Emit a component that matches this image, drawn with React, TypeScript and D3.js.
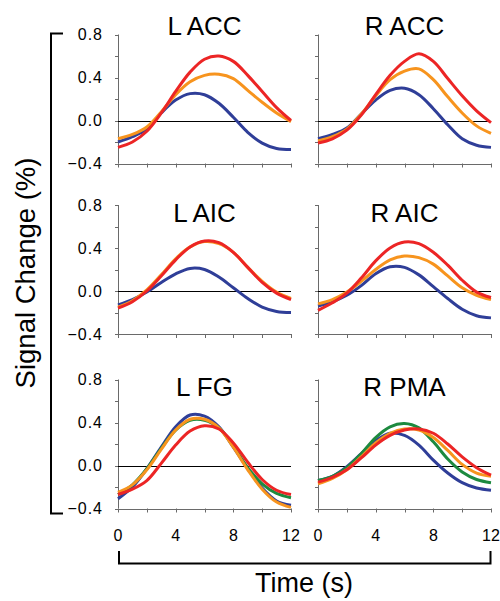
import React from "react";
import * as d3 from "d3";

const times = [0, 1, 2, 3, 4, 5, 6, 7, 8, 9, 10, 11, 12];
const regionNames = ["L ACC", "R ACC", "L AIC", "R AIC", "L FG", "R PMA"];
const yTicks = [-0.4, -0.2, 0, 0.2, 0.4, 0.6, 0.8];
const yTickLabels = [-0.4, 0, 0.4, 0.8];
const xTicks = [0, 2, 4, 6, 8, 10, 12];
const xTickLabels = [0, 4, 8, 12];

// L ACC
const lAccBlue = [-0.2, -0.15, -0.08, 0.07, 0.19, 0.25, 0.24, 0.16, 0.03, -0.11, -0.21, -0.26, -0.27];
const lAccOrange = [-0.17, -0.13, -0.06, 0.08, 0.24, 0.36, 0.42, 0.43, 0.39, 0.28, 0.17, 0.07, -0.01];
const lAccRed = [-0.25, -0.2, -0.1, 0.07, 0.27, 0.45, 0.57, 0.6, 0.55, 0.42, 0.27, 0.12, 0.0];
// R ACC
const rAccBlue = [-0.17, -0.13, -0.07, 0.06, 0.19, 0.28, 0.3, 0.24, 0.11, -0.04, -0.17, -0.23, -0.25];
const rAccOrange = [-0.19, -0.15, -0.08, 0.06, 0.23, 0.38, 0.46, 0.48, 0.38, 0.22, 0.07, -0.05, -0.12];
const rAccRed = [-0.21, -0.17, -0.09, 0.05, 0.24, 0.42, 0.55, 0.62, 0.55, 0.39, 0.23, 0.09, -0.02];
// L AIC
const lAicBlue = [-0.13, -0.08, -0.01, 0.08, 0.16, 0.21, 0.2, 0.13, 0.03, -0.07, -0.15, -0.19, -0.2];
const lAicOrange = [-0.15, -0.09, 0.01, 0.15, 0.3, 0.41, 0.46, 0.44, 0.36, 0.22, 0.09, -0.01, -0.07];
const lAicRed = [-0.16, -0.1, 0.0, 0.14, 0.29, 0.41, 0.465, 0.45, 0.36, 0.22, 0.08, -0.02, -0.08];
// R AIC
const rAicBlue = [-0.14, -0.1, -0.04, 0.05, 0.16, 0.225, 0.22, 0.15, 0.04, -0.07, -0.17, -0.23, -0.25];
const rAicOrange = [-0.12, -0.08, -0.01, 0.09, 0.2, 0.29, 0.325, 0.31, 0.25, 0.14, 0.03, -0.04, -0.08];
const rAicRed = [-0.18, -0.11, -0.02, 0.12, 0.28, 0.4, 0.455, 0.44, 0.36, 0.24, 0.1, -0.01, -0.06];
// L FG
const lFgBlue = [-0.31, -0.2, -0.03, 0.17, 0.36, 0.47, 0.46, 0.36, 0.17, -0.03, -0.21, -0.33, -0.37];
const lFgGreen = [-0.27, -0.18, -0.03, 0.16, 0.33, 0.42, 0.42, 0.35, 0.18, -0.02, -0.17, -0.26, -0.3];
const lFgOrange = [-0.25, -0.18, -0.04, 0.15, 0.33, 0.43, 0.43, 0.35, 0.17, -0.04, -0.22, -0.34, -0.39];
const lFgRed = [-0.27, -0.22, -0.14, 0.02, 0.19, 0.32, 0.37, 0.34, 0.21, 0.03, -0.13, -0.23, -0.27];
// R PMA
const rPmaBlue = [-0.14, -0.1, -0.01, 0.11, 0.23, 0.3, 0.28, 0.19, 0.05, -0.07, -0.16, -0.21, -0.23];
const rPmaGreen = [-0.14, -0.1, -0.02, 0.11, 0.26, 0.36, 0.39, 0.35, 0.22, 0.06, -0.06, -0.13, -0.16];
const rPmaOrange = [-0.17, -0.12, -0.04, 0.08, 0.21, 0.3, 0.34, 0.33, 0.26, 0.14, 0.01, -0.07, -0.1];
const rPmaRed = [-0.155, -0.11, -0.04, 0.07, 0.19, 0.28, 0.33, 0.34, 0.3, 0.2, 0.08, -0.02, -0.09];

const BLUE = "#2f3e98";
const GREEN = "#1d8a3f";
const ORANGE = "#f7941e";
const RED = "#ec2525";

const panelSeries: { values: number[]; color: string }[][] = [
  [
    { values: lAccBlue, color: BLUE },
    { values: lAccOrange, color: ORANGE },
    { values: lAccRed, color: RED },
  ],
  [
    { values: rAccBlue, color: BLUE },
    { values: rAccOrange, color: ORANGE },
    { values: rAccRed, color: RED },
  ],
  [
    { values: lAicBlue, color: BLUE },
    { values: lAicOrange, color: ORANGE },
    { values: lAicRed, color: RED },
  ],
  [
    { values: rAicBlue, color: BLUE },
    { values: rAicOrange, color: ORANGE },
    { values: rAicRed, color: RED },
  ],
  [
    { values: lFgBlue, color: BLUE },
    { values: lFgGreen, color: GREEN },
    { values: lFgOrange, color: ORANGE },
    { values: lFgRed, color: RED },
  ],
  [
    { values: rPmaBlue, color: BLUE },
    { values: rPmaGreen, color: GREEN },
    { values: rPmaOrange, color: ORANGE },
    { values: rPmaRed, color: RED },
  ],
];

const colX = [118, 318];
const rowTop = [34.5, 205, 379.5];
const titleBase = [35, 222, 396];
const PW = 173;
const PH = 129;
const FONT = "Liberation Sans, Arial, Helvetica, sans-serif";
const AXIS = "#6a6a6a";

function Panel({ idx }: { idx: number }) {
  const col = idx % 2;
  const row = Math.floor(idx / 2);
  const x0 = colX[col];
  const top = rowTop[row];
  const x = d3.scaleLinear().domain([0, 12]).range([x0, x0 + PW]);
  const y = d3.scaleLinear().domain([-0.4, 0.8]).range([top + PH, top]);
  const line = d3
    .line<number>()
    .x((_, i) => x(times[i]))
    .y((v) => y(v))
    .curve(d3.curveCatmullRom.alpha(0.5));
  const bottom = y(-0.4);
  return (
    <g>
      <text
        x={(x(0) + x(12)) / 2}
        y={titleBase[row]}
        textAnchor="middle"
        fontSize={26}
        fontFamily={FONT}
      >
        {regionNames[idx]}
      </text>
      <line x1={x0 + 0.5} x2={x0 + 0.5} y1={top} y2={bottom} stroke={AXIS} strokeWidth={1} />
      {yTicks.map((t) => (
        <line key={t} x1={x0 - 3} x2={x0 + 0.5} y1={Math.round(y(t)) + 0.5} y2={Math.round(y(t)) + 0.5} stroke={AXIS} />
      ))}
      {col === 0 &&
        yTickLabels.map((t) => (
          <text
            key={t}
            x={103}
            y={y(t) + 5.5}
            textAnchor="end"
            fontSize={16}
            letterSpacing={1}
            fontFamily={FONT}
          >
            {d3.format(".1f")(t)}
          </text>
        ))}
      <line x1={x0} x2={x0 + PW} y1={Math.round(bottom) + 0.5} y2={Math.round(bottom) + 0.5} stroke={AXIS} />
      {xTicks.map((t) => (
        <line key={t} x1={Math.round(x(t)) + 0.5} x2={Math.round(x(t)) + 0.5} y1={bottom} y2={bottom + 4} stroke={AXIS} />
      ))}
      {row === 2 &&
        xTickLabels.map((t) => (
          <text key={t} x={x(t)} y={541} textAnchor="middle" fontSize={16} fontFamily={FONT}>
            {t}
          </text>
        ))}
      <line x1={x0} x2={x0 + PW} y1={Math.round(y(0)) + 0.5} y2={Math.round(y(0)) + 0.5} stroke="#000" strokeWidth={1} />
      {panelSeries[idx].map((s, i) => (
        <path key={i} d={line(s.values) || ""} fill="none" stroke={s.color} strokeWidth={3} strokeLinejoin="round" />
      ))}
    </g>
  );
}

export default function App() {
  return (
    <svg
      width={500}
      height={601}
      style={{ position: "absolute", left: 0, top: 0, background: "#fff" }}
    >
      <path d="M63,33.5 H51 V513.5 H63" fill="none" stroke="#000" strokeWidth={2} />
      <text
        transform={`translate(35,273) rotate(-90)`}
        textAnchor="middle"
        fontSize={27.5}
        fontFamily={FONT}
      >
        Signal Change (%)
      </text>
      <path d="M119,551 V563.5 H490.5 V551" fill="none" stroke="#000" strokeWidth={2} />
      <text x={304} y={592} textAnchor="middle" fontSize={27} fontFamily={FONT}>
        Time (s)
      </text>
      {regionNames.map((_, i) => (
        <Panel key={i} idx={i} />
      ))}
    </svg>
  );
}
